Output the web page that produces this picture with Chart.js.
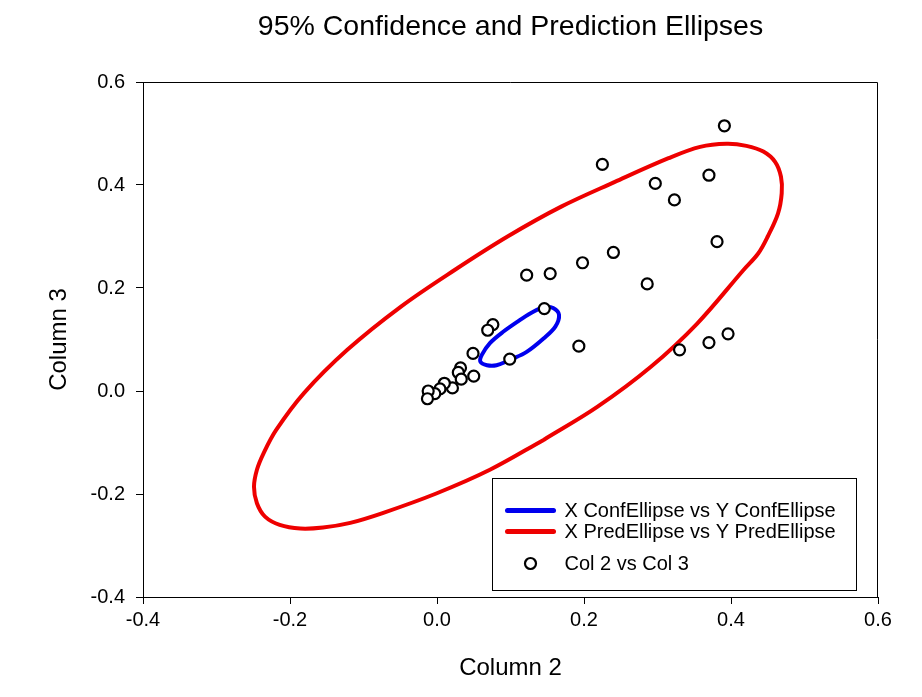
<!DOCTYPE html>
<html>
<head>
<meta charset="utf-8">
<script src="https://cdn.jsdelivr.net/npm/chart.js@4.4.1/dist/chart.umd.min.js"></script>
<style>
  body { margin: 0; background: #fff; }
  #wrap { width: 922px; height: 697px; }
</style>
</head>
<body>
<div id="wrap"><canvas id="c"></canvas></div>
<script>
// scatter: Col 2 vs Col 3
const col2 = [0.391, 0.225, 0.370, 0.297, 0.323, 0.381, 0.240, 0.198, 0.154, 0.122,
              0.286, 0.146, 0.193, 0.330, 0.370, 0.396, 0.076, 0.069, 0.049, 0.099,
              0.032, 0.029, 0.050, 0.033, 0.021, 0.010, 0.004, -0.003, -0.012, -0.013];
const col3 = [0.515, 0.440, 0.419, 0.403, 0.371, 0.290, 0.269, 0.249, 0.228, 0.225,
              0.208, 0.160, 0.087, 0.080, 0.094, 0.111, 0.129, 0.118, 0.073, 0.062,
              0.045, 0.036, 0.029, 0.023, 0.006, 0.015, 0.004, -0.005, 0.000, -0.015];

// 95% confidence ellipse outline
const confX = [0.099, 0.081, 0.068, 0.059, 0.061, 0.072, 0.090, 0.113, 0.131, 0.147,
               0.158, 0.166, 0.161, 0.145, 0.122];
const confY = [0.060, 0.050, 0.050, 0.057, 0.070, 0.093, 0.115, 0.138, 0.154, 0.163,
               0.161, 0.148, 0.125, 0.102, 0.076];

// 95% prediction ellipse outline
const predX = [0.145, 0.072, -0.001, -0.074, -0.118, -0.155, -0.186, -0.214, -0.234, -0.245,
               -0.249, -0.245, -0.236, -0.219, -0.181, -0.122, -0.049, 0.024, 0.096, 0.169,
               0.242, 0.315, 0.358, 0.394, 0.421, 0.444, 0.460, 0.468, 0.469, 0.464,
               0.450, 0.437, 0.417, 0.354, 0.291, 0.218];
const predY = [-0.095, -0.153, -0.199, -0.237, -0.256, -0.265, -0.267, -0.260, -0.244, -0.218,
               -0.186, -0.153, -0.121, -0.076, -0.004, 0.080, 0.164, 0.235, 0.300, 0.358,
               0.406, 0.452, 0.474, 0.480, 0.476, 0.465, 0.445, 0.416, 0.384, 0.345,
               0.300, 0.267, 0.235, 0.131, 0.047, -0.031];

const xTicks = [-0.4, -0.2, 0.0, 0.2, 0.4, 0.6];
const yTicks = [-0.4, -0.2, 0.0, 0.2, 0.4, 0.6];

const FONT = '"Liberation Sans", Arial, sans-serif';

function pts(xs, ys, closed) {
  let p = xs.map((x, i) => ({ x: x, y: ys[i] }));
  if (closed) p.push({ x: xs[0], y: ys[0] });
  return p;
}

// top/right frame of the plot
const frame = {
  id: 'frame',
  beforeDatasetsDraw(chart) {
    const { ctx, chartArea: a } = chart;
    ctx.save();
    ctx.strokeStyle = '#000';
    ctx.lineWidth = 1;
    ctx.beginPath();
    ctx.moveTo(a.left, a.top + 0.5);
    ctx.lineTo(a.right - 0.5, a.top + 0.5);
    ctx.lineTo(a.right - 0.5, a.bottom);
    ctx.stroke();
    ctx.restore();
  }
};

// boxed legend inside the plot, lower right
const legendBox = {
  id: 'legendBox',
  afterDraw(chart) {
    const { ctx, chartArea: a } = chart;
    const w = a.right - a.left, h = a.bottom - a.top;
    const bx = Math.round(a.left + 0.475 * w) + 0.5;
    const by = Math.round(a.top + 0.769 * h) + 0.5;
    const bw = 364, bh = 112;
    ctx.save();
    ctx.fillStyle = '#fff';
    ctx.fillRect(bx, by, bw, bh);
    ctx.strokeStyle = '#000';
    ctx.lineWidth = 1;
    ctx.strokeRect(bx, by, bw, bh);
    ctx.font = '20px ' + FONT;
    ctx.textBaseline = 'middle';
    const rows = [32, 53, 85];
    chart.data.datasets.forEach((ds, i) => {
      const y = by + rows[i];
      if (ds.showLine) {
        ctx.strokeStyle = ds.borderColor;
        ctx.lineWidth = 5;
        ctx.lineCap = 'round';
        ctx.beginPath();
        ctx.moveTo(bx + 15, y);
        ctx.lineTo(bx + 61, y);
        ctx.stroke();
      } else {
        ctx.strokeStyle = '#000';
        ctx.lineWidth = 2.2;
        ctx.beginPath();
        ctx.arc(bx + 38, y, 5.5, 0, Math.PI * 2);
        ctx.fillStyle = '#fff';
        ctx.fill();
        ctx.stroke();
      }
      ctx.fillStyle = '#000';
      ctx.fillText(ds.label, bx + 72, y + 1);
    });
    ctx.restore();
  }
};

new Chart(document.getElementById('c'), {
  type: 'scatter',
  data: {
    datasets: [
      {
        label: 'X ConfEllipse vs Y ConfEllipse',
        data: pts(confX, confY, true),
        showLine: true,
        borderColor: '#0000ee',
        borderWidth: 4,
        tension: 0.35,
        pointRadius: 0,
        order: 1
      },
      {
        label: 'X PredEllipse vs Y PredEllipse',
        data: pts(predX, predY, true),
        showLine: true,
        borderColor: '#ee0000',
        borderWidth: 4,
        tension: 0.35,
        pointRadius: 0,
        order: 2
      },
      {
        label: 'Col 2 vs Col 3',
        data: pts(col2, col3, false),
        showLine: false,
        pointRadius: 5.5,
        pointBorderWidth: 2.2,
        pointBackgroundColor: '#fff',
        pointBorderColor: '#000',
        order: 0
      }
    ]
  },
  options: {
    responsive: true,
    maintainAspectRatio: false,
    animation: false,
    layout: { padding: { top: 0, right: 44, bottom: 0, left: 0 } },
    plugins: {
      legend: { display: false },
      tooltip: { enabled: false },
      title: {
        display: true,
        fullSize: false,
        text: '95% Confidence and Prediction Ellipses',
        color: '#000',
        font: { family: FONT, size: 28.5, weight: 'normal' },
        padding: { top: 10, bottom: 37.8 }
      }
    },
    scales: {
      x: {
        type: 'linear',
        min: -0.4,
        max: 0.6,
        afterBuildTicks: s => { s.ticks = xTicks.map(v => ({ value: v })); },
        afterFit: s => { s.height = 100; },
        grid: { display: true, drawOnChartArea: false, drawTicks: true, tickLength: 7, tickColor: '#000' },
        border: { display: true, color: '#000', width: 1 },
        ticks: {
          color: '#000',
          font: { family: FONT, size: 20 },
          padding: 4,
          maxRotation: 0,
          callback: v => v.toFixed(1)
        },
        title: {
          display: true,
          text: 'Column 2',
          color: '#000',
          font: { family: FONT, size: 24 },
          padding: { top: 0, bottom: 14.6 }
        }
      },
      y: {
        type: 'linear',
        min: -0.4,
        max: 0.6,
        afterBuildTicks: s => { s.ticks = yTicks.map(v => ({ value: v })); },
        afterFit: s => { s.width = 143; },
        grid: { display: true, drawOnChartArea: false, drawTicks: true, tickLength: 7, tickColor: '#000' },
        border: { display: true, color: '#000', width: 1 },
        ticks: {
          color: '#000',
          font: { family: FONT, size: 20 },
          padding: 11,
          callback: v => v.toFixed(1)
        },
        title: {
          display: true,
          text: 'Column 3',
          color: '#000',
          font: { family: FONT, size: 24 },
          padding: { top: 44.6, bottom: 0 }
        }
      }
    }
  },
  plugins: [frame, legendBox]
});
</script>
</body>
</html>
